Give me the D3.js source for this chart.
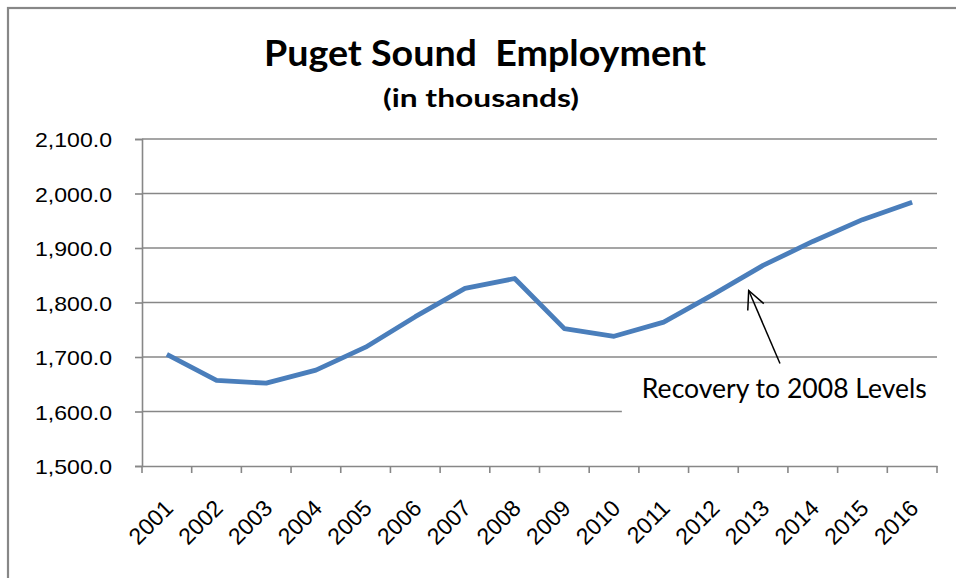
<!DOCTYPE html>
<html>
<head>
<meta charset="utf-8">
<script src="https://cdn.jsdelivr.net/npm/d3@7"></script>
<style>
  html, body { margin: 0; padding: 0; background: #fff; }
  svg { display: block; font-family: Lato, "Open Sans", sans-serif; }
</style>
</head>
<body>
<svg id="chart" width="956" height="578"></svg>
<script>
// Puget Sound employment, thousands of jobs
const years = ["2001","2002","2003","2004","2005","2006","2007","2008",
               "2009","2010","2011","2012","2013","2014","2015","2016"];
const employment = [1705, 1657, 1652, 1676, 1718, 1774, 1826, 1844,
                    1752, 1738, 1764, 1815, 1868, 1912, 1952, 1984];
const yTicks = [1500, 1600, 1700, 1800, 1900, 2000, 2100];

const titleText = "Puget Sound\u00a0\u00a0Employment";
const subtitleText = "(in thousands)";
const noteText = "Recovery to 2008 Levels";

const svg = d3.select("#chart");
const plot = { left: 142, right: 937, top: 139, bottom: 466 };

const x = d3.scaleBand().domain(years).range([plot.left, plot.right]);
const y = d3.scaleLinear().domain([1500, 2100]).range([plot.bottom, plot.top]);
const cx = i => x(years[0]) + (i + 0.5) * x.bandwidth();

const gridColor = "#878787";

// chart frame
svg.append("rect")
  .attr("x", 8).attr("y", 8).attr("width", 980).attr("height", 600)
  .attr("fill", "none").attr("stroke", gridColor).attr("stroke-width", 2.2);

// horizontal gridlines
svg.append("g").selectAll("line")
  .data(yTicks.filter(v => v > 1500))
  .join("line")
  .attr("x1", plot.left).attr("x2", plot.right)
  .attr("y1", d => y(d)).attr("y2", d => y(d))
  .attr("stroke", gridColor).attr("stroke-width", 1.6);

// y axis
const yAxis = svg.append("g")
  .attr("transform", `translate(${plot.left},0)`)
  .call(d3.axisLeft(y).tickValues(yTicks).tickSize(7).tickPadding(23)
        .tickFormat(d3.format(",.1f")));
yAxis.select(".domain").attr("stroke", gridColor).attr("stroke-width", 1.6);
yAxis.selectAll(".tick line").attr("stroke", gridColor).attr("stroke-width", 1.6);
yAxis.selectAll(".tick text")
  .attr("fill", "#000").style("font-size", "21px").attr("dy", "0.36em")
  .attr("textLength", 77).attr("lengthAdjust", "spacingAndGlyphs");

// x axis: labels at category centres, tick marks at category boundaries
const xAxis = svg.append("g")
  .attr("transform", `translate(0,${plot.bottom})`)
  .call(d3.axisBottom(x).tickSize(0).tickPadding(0));
xAxis.select(".domain").attr("stroke", gridColor).attr("stroke-width", 1.6);
xAxis.selectAll(".tick text")
  .attr("fill", "#000").style("font-size", "23px")
  .attr("text-anchor", "end")
  .attr("transform", `translate(2,38) rotate(-45)`)
  .attr("dy", "0.35em");
svg.append("g").selectAll("line")
  .data(d3.range(years.length + 1))
  .join("line")
  .attr("x1", i => plot.left + i * x.bandwidth())
  .attr("x2", i => plot.left + i * x.bandwidth())
  .attr("y1", plot.bottom).attr("y2", plot.bottom + 7)
  .attr("stroke", gridColor).attr("stroke-width", 1.6);

// annotation box hides the gridline under the note
const noteX = cx(9.56), noteY = y(1624);
svg.append("rect")
  .attr("x", noteX - 20).attr("y", noteY - 28)
  .attr("width", plot.right + 10 - (noteX - 20)).attr("height", 50)
  .attr("fill", "#fff");

// employment line
svg.append("path")
  .datum(employment)
  .attr("d", d3.line().x((d, i) => cx(i)).y(d => y(d)))
  .attr("fill", "none")
  .attr("stroke", "#4a7ebb")
  .attr("stroke-width", 4.8)
  .attr("stroke-linejoin", "round");

// annotation arrow
const tail = [cx(12.34), y(1688)];
const tip = [cx(11.71), y(1822)];
svg.append("line")
  .attr("x1", tail[0]).attr("y1", tail[1])
  .attr("x2", tip[0]).attr("y2", tip[1])
  .attr("stroke", "#000").attr("stroke-width", 1.5);
const ang = Math.atan2(tail[1] - tip[1], tail[0] - tip[0]);
const headLen = 20, spread = 0.45;
svg.append("path")
  .attr("d", d3.line()([
    [tip[0] + headLen * Math.cos(ang - spread), tip[1] + headLen * Math.sin(ang - spread)],
    tip,
    [tip[0] + headLen * Math.cos(ang + spread), tip[1] + headLen * Math.sin(ang + spread)]
  ]))
  .attr("fill", "none").attr("stroke", "#000").attr("stroke-width", 1.5);

svg.append("text")
  .attr("x", noteX).attr("y", noteY)
  .style("font-size", "26px")
  .attr("textLength", 285).attr("lengthAdjust", "spacingAndGlyphs")
  .text(noteText);

// titles
svg.append("text")
  .attr("x", 485).attr("y", 66)
  .attr("text-anchor", "middle")
  .style("font-size", "36px").style("font-weight", "bold")
  .attr("textLength", 442).attr("lengthAdjust", "spacingAndGlyphs")
  .text(titleText);
svg.append("text")
  .attr("x", 481).attr("y", 107)
  .attr("text-anchor", "middle")
  .style("font-size", "24px").style("font-weight", "bold")
  .attr("textLength", 196).attr("lengthAdjust", "spacingAndGlyphs")
  .text(subtitleText);
</script>
</body>
</html>
